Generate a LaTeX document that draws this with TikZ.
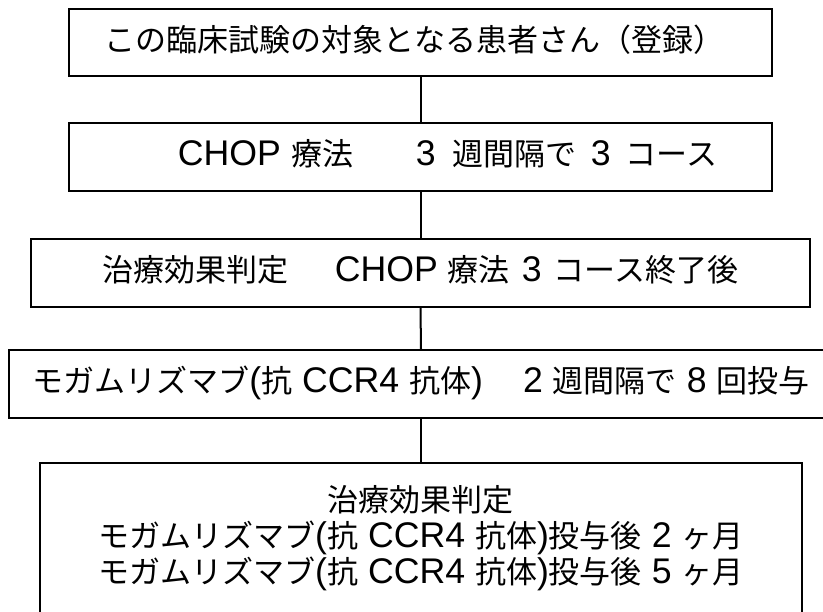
\documentclass[tikz,border=0pt]{standalone}
\usepackage{fontspec}
\setmainfont{Noto Sans CJK JP}
\newfontfamily\latfont[Scale=1.15]{Liberation Sans}
\newcommand\latn[1]{{\latfont #1}}
\begin{document}
\begin{tikzpicture}[x=1pt,y=-1pt,
  box/.style={draw,line width=2pt,rectangle,inner sep=0pt,
    text height=22pt,text depth=4pt,font=\fontsize{31pt}{36pt}\selectfont},
  txt/.style={inner sep=0pt,align=center,font=\fontsize{31pt}{36pt}\selectfont},
  link/.style={line width=2pt}]
\useasboundingbox (0,0) rectangle (823,612);
\clip (0,0) rectangle (823,612);
\node[box,minimum width=703pt,minimum height=67pt] (b1) at (420.5,42.5)
  {この臨床試験の対象となる患者さん（登録）\hspace*{12pt}};
\node[box,minimum width=703pt,minimum height=68pt] (b2) at (420.5,157)
  {\hspace*{54pt}\latn{CHOP}\hspace{11pt}療法\hspace{62pt}\latn{3}\hspace{17pt}週間隔で\hspace{14pt}\latn{3}\hspace{15pt}コース};
\node[box,minimum width=779pt,minimum height=68pt] (b3) at (420.5,273)
  {治療効果判定\hspace{46pt}\latn{CHOP}\hspace{10pt}療法\hspace{12pt}\latn{3}\hspace{12pt}コース終了後};
\node[box,minimum width=824pt,minimum height=68pt] (b4) at (421,384)
  {モガムリズマブ\latn{(}抗\hspace{10pt}\latn{CCR4}\hspace{10pt}抗体\latn{)}\hspace{40pt}\latn{2}\hspace{10pt}週間隔で\hspace{10pt}\latn{8}\hspace{10pt}回投与};
\node[box,minimum width=762pt,minimum height=177pt] (b5) at (421,551.5) {};
\node[txt] (b5t) at (421,538)
  {治療効果判定\\
   モガムリズマブ\latn{(}抗\hspace{10pt}\latn{CCR4}\hspace{10pt}抗体\latn{)}投与後\hspace{10pt}\latn{2}\hspace{10pt}ヶ月\\
   モガムリズマブ\latn{(}抗\hspace{10pt}\latn{CCR4}\hspace{10pt}抗体\latn{)}投与後\hspace{10pt}\latn{5}\hspace{10pt}ヶ月};
\draw[link] (b1.south) -- (b2.north);
\draw[link] (b2.south) -- (b3.north);
\draw[link] (b3.south) -- (b4.north);
\draw[link] (b4.south) -- (b5.north);
\end{tikzpicture}
\end{document}
